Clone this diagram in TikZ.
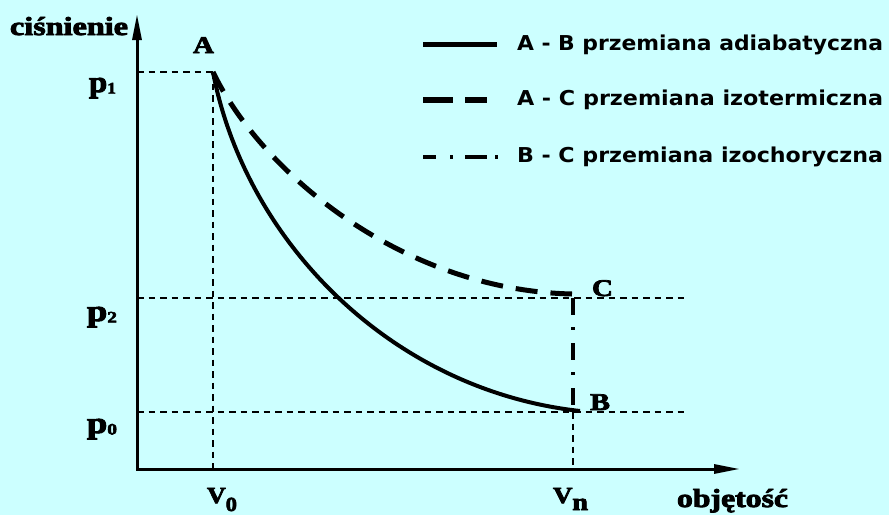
\documentclass[tikz,border=0pt]{standalone}
\usepackage{fontspec}
\setmainfont{Liberation Serif}[BoldFeatures={FakeBold=3}]
\newfontfamily\legfont{DejaVu Sans}
\usepackage{graphicx}
\usetikzlibrary{arrows.meta}
\definecolor{bgcyan}{RGB}{204,255,255}
\newcommand\fitw[2]{\resizebox{#1}{\height}{#2}}
\newcommand\sersz[1]{\fontsize{#1}{#1}\selectfont\bfseries}
\newcommand\legtext[1]{\fitw{366pt}{\legfont\bfseries\fontsize{20.5}{22}\selectfont #1}}
\begin{document}
\begin{tikzpicture}[x=1pt,y=-1pt,
  lbl/.style={inner sep=0pt, outer sep=0pt, anchor=base west},
  axisline/.style={line width=3pt, line join=miter,
    {Triangle[length=26pt,width=9pt]}-{Triangle[length=26pt,width=9pt]}},
  guide/.style={line width=1.3pt, dash pattern=on 6.5pt off 5pt},
  adiab/.style={line width=4pt},
  isoth/.style={line width=5pt, dash pattern=on 22pt off 13pt},
  isoch/.style={line width=3.5pt, dash pattern=on 17pt off 12pt on 3pt off 13pt},
]
\fill[bgcyan] (0,0) rectangle (889,515);
\useasboundingbox (0,0) rectangle (889,515);

% key points
\coordinate (O) at (137,469);
\coordinate (Ytip) at (137,14);
\coordinate (Xtip) at (740,469);
\coordinate (A) at (213,72);
\coordinate (B) at (580,411);
\coordinate (C) at (572,294);
\coordinate (p1L) at (137,72);
\coordinate (p2L) at (137,298);
\coordinate (p2R) at (688,298);
\coordinate (p0L) at (137,412);
\coordinate (p0R) at (688,412);
\coordinate (V0b) at (213,469);
\coordinate (Vnt) at (573,298);
\coordinate (Vnm) at (573,412);
\coordinate (Vnb) at (573,469);

% guide lines
\draw[guide] (p1L) -- (A);
\draw[guide] (A) -- (V0b);
\draw[guide] (p2L) -- (p2R);
\draw[guide] (p0L) -- (p0R);
\draw[guide] (Vnm) -- (Vnb);

% axes
\draw[axisline] (Ytip) |- (Xtip);

% processes
\draw[adiab] (A) .. controls (245,240) and (390,390) .. (B);
\draw[isoth] (A) .. controls (260,170) and (400,290) .. (C);
\draw[isoch] (Vnt) -- (Vnm);

% axis labels
\node[lbl] (ylab) at (10,35) {\fitw{118pt}{\sersz{26}ciśnienie}};
\node[lbl] (xlab) at (677,507) {\fitw{111pt}{\sersz{26}objętość}};
\node[lbl] (lA) at (193,53) {\fitw{21pt}{\sersz{24}A}};
\node[lbl] (lB) at (590,410) {\fitw{20pt}{\sersz{24}B}};
\node[lbl] (lC) at (592,296) {\fitw{21pt}{\sersz{24}C}};
\node[lbl] (lp1) at (89,92) {\fitw{27pt}{\sersz{30}p\raisebox{-1.5pt}{\sersz{16}1}}};
\node[lbl] (lp2) at (87,321) {\fitw{30pt}{\sersz{30}p\raisebox{-1.5pt}{\sersz{16}2}}};
\node[lbl] (lp0) at (87,433) {\fitw{30pt}{\sersz{30}p\raisebox{-1.5pt}{\sersz{16}0}}};
\node[lbl] (lV0) at (207,503) {\fitw{30pt}{\sersz{23}V\raisebox{-8pt}{\sersz{20}0}}};
\node[lbl] (lVn) at (553,503) {\fitw{35pt}{\sersz{23}V\raisebox{-7pt}{\sersz{24}n}}};

% legend
\coordinate (g1a) at (423,44);  \coordinate (g1b) at (497,44);
\coordinate (g2a) at (423,100); \coordinate (g2b) at (487,100);
\coordinate (g3a) at (423,157); \coordinate (g3b) at (498,157);
\draw[line width=5pt] (g1a) -- (g1b);
\draw[line width=5.5pt, dash pattern=on 30pt off 12pt] (g2a) -- (g2b);
\draw[line width=4pt, dash pattern=on 13pt off 14pt on 3pt off 12pt on 22pt off 8pt on 3pt off 20pt] (g3a) -- (g3b);
\node[lbl] (leg1) at (517,50) {\legtext{A - B przemiana adiabatyczna}};
\node[lbl] (leg2) at (517,105) {\legtext{A - C przemiana izotermiczna}};
\node[lbl] (leg3) at (517,162) {\legtext{B - C przemiana izochoryczna}};
\end{tikzpicture}
\end{document}
